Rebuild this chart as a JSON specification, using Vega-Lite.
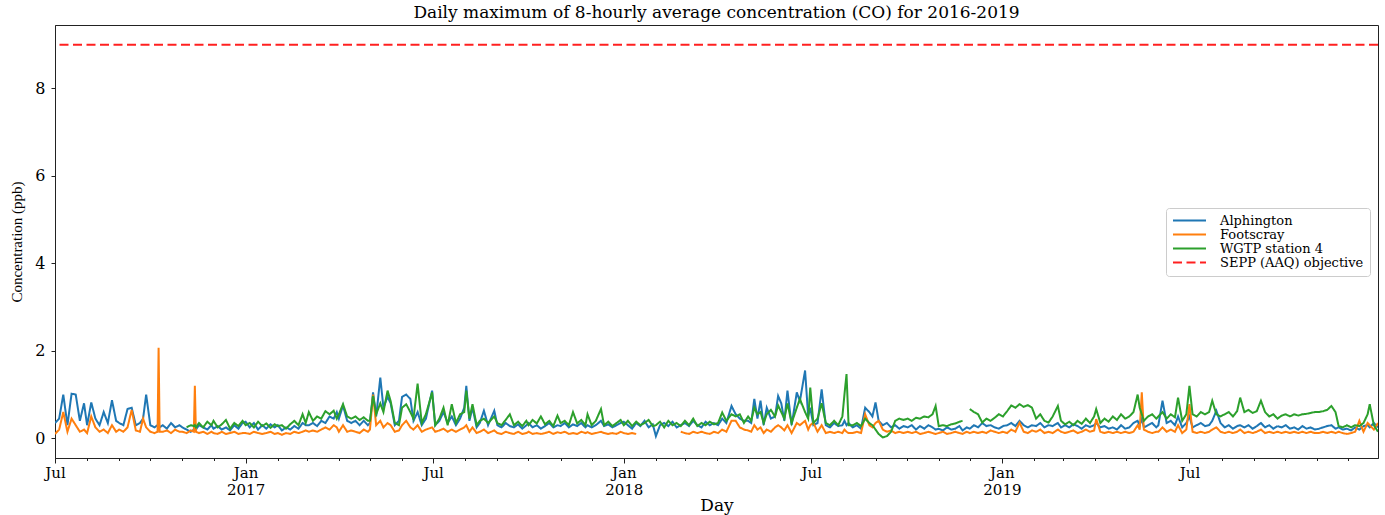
{
  "$schema": "https://vega.github.io/schema/vega-lite/v6.json",
  "width": 1323,
  "height": 433,
  "autosize": "none",
  "padding": {"left": 55, "top": 25, "right": 7, "bottom": 57},
  "background": "#ffffff",
  "title": {"text": "Daily maximum of 8-hourly average concentration (CO) for 2016-2019", "font": "DejaVu Serif", "fontSize": 17, "fontWeight": "normal", "color": "#000000", "anchor": "middle", "offset": 3},
  "config": {
    "font": "DejaVu Serif",
    "view": {"stroke": "#222222", "strokeWidth": 1},
    "axis": {"grid": false, "domainColor": "#222222", "tickColor": "#222222", "labelColor": "#000000", "titleColor": "#000000", "titleFontWeight": "normal"}
  },
  "layer": [
    {
      "data": {"values": [
        {"d":"2016-07-01","a":0.35,"f":0.10},
        {"d":"2016-07-05","a":0.45,"f":0.20},
        {"d":"2016-07-09","a":1.00,"f":0.60},
        {"d":"2016-07-13","a":0.30,"f":0.15},
        {"d":"2016-07-17","a":1.02,"f":0.45},
        {"d":"2016-07-21","a":1.00,"f":0.30},
        {"d":"2016-07-25","a":0.40,"f":0.15},
        {"d":"2016-07-29","a":0.80,"f":0.20},
        {"d":"2016-08-01","a":0.30,"f":0.12},
        {"d":"2016-08-05","a":0.82,"f":0.50},
        {"d":"2016-08-09","a":0.45,"f":0.25},
        {"d":"2016-08-13","a":0.30,"f":0.15},
        {"d":"2016-08-17","a":0.60,"f":0.20},
        {"d":"2016-08-21","a":0.35,"f":0.12},
        {"d":"2016-08-25","a":0.87,"f":0.30},
        {"d":"2016-08-29","a":0.40,"f":0.15},
        {"d":"2016-09-01","a":0.35,"f":0.20},
        {"d":"2016-09-05","a":0.30,"f":0.15},
        {"d":"2016-09-09","a":0.67,"f":0.25},
        {"d":"2016-09-13","a":0.70,"f":0.65},
        {"d":"2016-09-17","a":0.30,"f":0.18},
        {"d":"2016-09-21","a":0.35,"f":0.15},
        {"d":"2016-09-24","a":0.45,"f":0.45},
        {"d":"2016-09-27","a":1.00,"f":0.25},
        {"d":"2016-10-01","a":0.30,"f":0.15},
        {"d":"2016-10-05","a":0.25,"f":0.12},
        {"d":"2016-10-08","a":0.30,"f":0.15},
        {"d":"2016-10-09","a":0.28,"f":2.07},
        {"d":"2016-10-10","a":0.25,"f":0.15},
        {"d":"2016-10-13","a":0.30,"f":0.15},
        {"d":"2016-10-17","a":0.22,"f":0.18},
        {"d":"2016-10-21","a":0.35,"f":0.12},
        {"d":"2016-10-25","a":0.25,"f":0.20},
        {"d":"2016-10-29","a":0.30,"f":0.15},
        {"d":"2016-11-01","a":0.25,"f":0.15},
        {"d":"2016-11-05","a":0.20,"f":0.12,"w":0.25},
        {"d":"2016-11-09","a":0.15,"f":0.18,"w":0.30},
        {"d":"2016-11-12","a":0.20,"f":0.15,"w":0.28},
        {"d":"2016-11-13","a":0.25,"f":1.20,"w":0.30},
        {"d":"2016-11-14","a":0.20,"f":0.15,"w":0.25},
        {"d":"2016-11-17","a":0.30,"f":0.12,"w":0.35},
        {"d":"2016-11-21","a":0.25,"f":0.15,"w":0.25},
        {"d":"2016-11-25","a":0.20,"f":0.10,"w":0.38},
        {"d":"2016-11-29","a":0.30,"f":0.15,"w":0.30},
        {"d":"2016-12-01","a":0.22,"f":0.12,"w":0.40},
        {"d":"2016-12-05","a":0.28,"f":0.10,"w":0.25},
        {"d":"2016-12-09","a":0.20,"f":0.15,"w":0.32},
        {"d":"2016-12-13","a":0.25,"f":0.10,"w":0.42},
        {"d":"2016-12-17","a":0.18,"f":0.12,"w":0.22},
        {"d":"2016-12-21","a":0.30,"f":0.15,"w":0.35},
        {"d":"2016-12-25","a":0.22,"f":0.10,"w":0.28},
        {"d":"2016-12-29","a":0.35,"f":0.12,"w":0.40},
        {"d":"2017-01-01","a":0.38,"f":0.12,"w":0.30},
        {"d":"2017-01-05","a":0.25,"f":0.10,"w":0.35},
        {"d":"2017-01-09","a":0.35,"f":0.15,"w":0.25},
        {"d":"2017-01-13","a":0.20,"f":0.12,"w":0.38},
        {"d":"2017-01-17","a":0.30,"f":0.10,"w":0.28},
        {"d":"2017-01-21","a":0.22,"f":0.12,"w":0.34},
        {"d":"2017-01-25","a":0.32,"f":0.15,"w":0.24},
        {"d":"2017-01-29","a":0.25,"f":0.10,"w":0.32},
        {"d":"2017-02-01","a":0.30,"f":0.12,"w":0.28},
        {"d":"2017-02-05","a":0.18,"f":0.08,"w":0.30},
        {"d":"2017-02-09","a":0.25,"f":0.12,"w":0.22},
        {"d":"2017-02-13","a":0.20,"f":0.10,"w":0.32},
        {"d":"2017-02-17","a":0.28,"f":0.15,"w":0.40},
        {"d":"2017-02-21","a":0.22,"f":0.12,"w":0.30},
        {"d":"2017-02-25","a":0.35,"f":0.15,"w":0.55},
        {"d":"2017-02-28","a":0.30,"f":0.18,"w":0.35},
        {"d":"2017-03-03","a":0.30,"f":0.15,"w":0.60},
        {"d":"2017-03-07","a":0.35,"f":0.18,"w":0.40},
        {"d":"2017-03-11","a":0.28,"f":0.15,"w":0.50},
        {"d":"2017-03-15","a":0.40,"f":0.20,"w":0.45},
        {"d":"2017-03-19","a":0.35,"f":0.25,"w":0.62},
        {"d":"2017-03-23","a":0.50,"f":0.20,"w":0.55},
        {"d":"2017-03-27","a":0.45,"f":0.30,"w":0.63},
        {"d":"2017-03-30","a":0.60,"f":0.25,"w":0.45},
        {"d":"2017-04-01","a":0.45,"f":0.15,"w":0.55},
        {"d":"2017-04-05","a":0.75,"f":0.30,"w":0.78},
        {"d":"2017-04-09","a":0.40,"f":0.15,"w":0.50},
        {"d":"2017-04-13","a":0.35,"f":0.18,"w":0.45},
        {"d":"2017-04-17","a":0.40,"f":0.15,"w":0.50},
        {"d":"2017-04-21","a":0.30,"f":0.12,"w":0.42},
        {"d":"2017-04-25","a":0.40,"f":0.20,"w":0.48},
        {"d":"2017-04-29","a":0.30,"f":0.15,"w":0.40},
        {"d":"2017-05-01","a":0.35,"f":0.20,"w":0.40},
        {"d":"2017-05-04","a":1.05,"f":1.00,"w":0.97},
        {"d":"2017-05-07","a":0.50,"f":0.30,"w":0.55},
        {"d":"2017-05-11","a":1.39,"f":0.40,"w":0.80},
        {"d":"2017-05-14","a":0.70,"f":0.25,"w":0.60},
        {"d":"2017-05-18","a":0.95,"f":0.35,"w":1.09},
        {"d":"2017-05-21","a":0.80,"f":0.30,"w":0.85},
        {"d":"2017-05-25","a":0.30,"f":0.15,"w":0.35},
        {"d":"2017-05-29","a":0.40,"f":0.18,"w":0.30},
        {"d":"2017-06-01","a":0.95,"f":0.30,"w":0.70},
        {"d":"2017-06-05","a":1.00,"f":0.40,"w":0.78},
        {"d":"2017-06-09","a":0.90,"f":0.25,"w":0.60},
        {"d":"2017-06-12","a":0.40,"f":0.20,"w":0.45},
        {"d":"2017-06-16","a":0.60,"f":0.30,"w":1.25},
        {"d":"2017-06-20","a":0.30,"f":0.15,"w":0.35},
        {"d":"2017-06-24","a":0.45,"f":0.20,"w":0.55},
        {"d":"2017-06-30","a":1.09,"f":0.25,"w":1.05},
        {"d":"2017-07-03","a":0.30,"f":0.15,"w":0.30},
        {"d":"2017-07-07","a":0.40,"f":0.18,"w":0.45},
        {"d":"2017-07-11","a":0.60,"f":0.22,"w":0.70},
        {"d":"2017-07-15","a":0.35,"f":0.15,"w":0.30},
        {"d":"2017-07-19","a":0.50,"f":0.20,"w":0.78},
        {"d":"2017-07-23","a":0.30,"f":0.15,"w":0.35},
        {"d":"2017-07-27","a":0.45,"f":0.20,"w":0.55},
        {"d":"2017-07-31","a":0.70,"f":0.25,"w":0.60},
        {"d":"2017-08-02","a":1.20,"f":0.30,"w":1.09},
        {"d":"2017-08-05","a":0.40,"f":0.15,"w":0.45},
        {"d":"2017-08-08","a":0.70,"f":0.25,"w":0.78},
        {"d":"2017-08-12","a":0.25,"f":0.12,"w":0.30},
        {"d":"2017-08-15","a":0.35,"f":0.15,"w":0.40},
        {"d":"2017-08-19","a":0.63,"f":0.20,"w":0.45},
        {"d":"2017-08-23","a":0.30,"f":0.12,"w":0.35},
        {"d":"2017-08-29","a":0.63,"f":0.18,"w":0.50},
        {"d":"2017-09-01","a":0.30,"f":0.12,"w":0.35},
        {"d":"2017-09-05","a":0.25,"f":0.10,"w":0.30},
        {"d":"2017-09-09","a":0.35,"f":0.15,"w":0.42},
        {"d":"2017-09-13","a":0.28,"f":0.12,"w":0.55},
        {"d":"2017-09-17","a":0.25,"f":0.10,"w":0.30},
        {"d":"2017-09-21","a":0.32,"f":0.15,"w":0.38},
        {"d":"2017-09-25","a":0.22,"f":0.10,"w":0.28},
        {"d":"2017-09-29","a":0.30,"f":0.12,"w":0.40},
        {"d":"2017-10-01","a":0.35,"f":0.15,"w":0.30},
        {"d":"2017-10-05","a":0.25,"f":0.10,"w":0.42},
        {"d":"2017-10-09","a":0.30,"f":0.12,"w":0.34},
        {"d":"2017-10-13","a":0.22,"f":0.10,"w":0.50},
        {"d":"2017-10-17","a":0.28,"f":0.12,"w":0.32},
        {"d":"2017-10-21","a":0.35,"f":0.15,"w":0.40},
        {"d":"2017-10-25","a":0.25,"f":0.10,"w":0.28},
        {"d":"2017-10-29","a":0.30,"f":0.14,"w":0.52},
        {"d":"2017-11-01","a":0.28,"f":0.12,"w":0.35},
        {"d":"2017-11-05","a":0.35,"f":0.15,"w":0.40},
        {"d":"2017-11-09","a":0.25,"f":0.10,"w":0.30},
        {"d":"2017-11-13","a":0.32,"f":0.12,"w":0.60},
        {"d":"2017-11-17","a":0.28,"f":0.10,"w":0.34},
        {"d":"2017-11-21","a":0.35,"f":0.15,"w":0.42},
        {"d":"2017-11-25","a":0.25,"f":0.12,"w":0.30},
        {"d":"2017-11-27","a":0.30,"f":0.14,"w":0.55},
        {"d":"2017-12-01","a":0.25,"f":0.10,"w":0.30},
        {"d":"2017-12-05","a":0.30,"f":0.12,"w":0.40},
        {"d":"2017-12-10","a":0.40,"f":0.15,"w":0.67},
        {"d":"2017-12-13","a":0.28,"f":0.12,"w":0.30},
        {"d":"2017-12-17","a":0.32,"f":0.10,"w":0.38},
        {"d":"2017-12-21","a":0.25,"f":0.12,"w":0.28},
        {"d":"2017-12-25","a":0.30,"f":0.10,"w":0.35},
        {"d":"2017-12-29","a":0.35,"f":0.15,"w":0.42},
        {"d":"2018-01-01","a":0.38,"f":0.12,"w":0.30},
        {"d":"2018-01-05","a":0.30,"f":0.10,"w":0.40},
        {"d":"2018-01-09","a":0.22,"f":0.12,"w":0.28},
        {"d":"2018-01-13","a":0.35,"f":0.10,"w":0.38},
        {"d":"2018-01-17","a":0.28,"w":0.30},
        {"d":"2018-01-21","a":0.40,"w":0.35},
        {"d":"2018-01-25","a":0.25,"w":0.42},
        {"d":"2018-01-29","a":0.32,"w":0.28},
        {"d":"2018-02-01","a":0.05,"w":0.30},
        {"d":"2018-02-05","a":0.30,"w":0.38},
        {"d":"2018-02-09","a":0.35,"w":0.25},
        {"d":"2018-02-13","a":0.28,"w":0.40},
        {"d":"2018-02-17","a":0.38,"w":0.30},
        {"d":"2018-02-21","a":0.25,"w":0.35},
        {"d":"2018-02-25","a":0.30,"f":0.15,"w":0.28},
        {"d":"2018-03-01","a":0.35,"f":0.12,"w":0.40},
        {"d":"2018-03-05","a":0.28,"f":0.10,"w":0.30},
        {"d":"2018-03-09","a":0.40,"f":0.15,"w":0.45},
        {"d":"2018-03-13","a":0.30,"f":0.12,"w":0.28},
        {"d":"2018-03-17","a":0.25,"f":0.15,"w":0.35},
        {"d":"2018-03-21","a":0.38,"f":0.12,"w":0.30},
        {"d":"2018-03-25","a":0.30,"f":0.10,"w":0.38},
        {"d":"2018-03-29","a":0.35,"f":0.15,"w":0.32},
        {"d":"2018-04-02","a":0.30,"f":0.12,"w":0.35},
        {"d":"2018-04-06","a":0.45,"f":0.20,"w":0.59},
        {"d":"2018-04-10","a":0.35,"f":0.15,"w":0.40},
        {"d":"2018-04-15","a":0.74,"f":0.40,"w":0.55},
        {"d":"2018-04-19","a":0.55,"f":0.40,"w":0.50},
        {"d":"2018-04-23","a":0.45,"f":0.25,"w":0.55},
        {"d":"2018-04-27","a":0.40,"f":0.20,"w":0.35},
        {"d":"2018-05-01","a":0.40,"f":0.18,"w":0.50},
        {"d":"2018-05-04","a":0.35,"f":0.15,"w":0.40},
        {"d":"2018-05-07","a":0.90,"f":0.30,"w":0.70},
        {"d":"2018-05-10","a":0.45,"f":0.20,"w":0.55},
        {"d":"2018-05-13","a":0.86,"f":0.25,"w":0.60},
        {"d":"2018-05-16","a":0.30,"f":0.12,"w":0.35},
        {"d":"2018-05-19","a":0.70,"f":0.20,"w":0.55},
        {"d":"2018-05-23","a":0.45,"f":0.15,"w":0.65},
        {"d":"2018-05-27","a":0.50,"f":0.25,"w":0.50},
        {"d":"2018-05-30","a":0.97,"f":0.30,"w":0.75},
        {"d":"2018-06-02","a":0.80,"f":0.25,"w":0.60},
        {"d":"2018-06-05","a":0.40,"f":0.18,"w":0.45},
        {"d":"2018-06-08","a":1.09,"f":0.30,"w":0.80},
        {"d":"2018-06-12","a":0.30,"f":0.12,"w":0.35},
        {"d":"2018-06-17","a":1.05,"f":0.35,"w":0.70},
        {"d":"2018-06-20","a":0.85,"f":0.30,"w":0.90},
        {"d":"2018-06-25","a":1.55,"f":0.40,"w":0.60},
        {"d":"2018-06-28","a":0.50,"f":0.20,"w":0.45},
        {"d":"2018-06-30","a":0.70,"f":0.30,"w":1.16},
        {"d":"2018-07-03","a":0.30,"f":0.36,"w":0.35},
        {"d":"2018-07-07","a":0.35,"f":0.15,"w":0.45},
        {"d":"2018-07-11","a":1.12,"f":0.30,"w":0.80},
        {"d":"2018-07-15","a":0.30,"f":0.12,"w":0.35},
        {"d":"2018-07-19","a":0.25,"f":0.15,"w":0.30},
        {"d":"2018-07-23","a":0.35,"f":0.12,"w":0.40},
        {"d":"2018-07-27","a":0.28,"f":0.15,"w":0.30},
        {"d":"2018-07-31","a":0.30,"f":0.12,"w":0.50},
        {"d":"2018-08-02","a":0.40,"f":0.20,"w":1.00},
        {"d":"2018-08-04","a":0.30,"f":0.15,"w":1.47},
        {"d":"2018-08-06","a":0.35,"f":0.12,"w":0.30},
        {"d":"2018-08-10","a":0.25,"f":0.12,"w":0.30},
        {"d":"2018-08-14","a":0.30,"f":0.15,"w":0.35},
        {"d":"2018-08-18","a":0.22,"f":0.12,"w":0.28},
        {"d":"2018-08-22","a":0.70,"f":0.55,"w":0.45},
        {"d":"2018-08-26","a":0.60,"f":0.30,"w":0.35},
        {"d":"2018-08-29","a":0.50,"f":0.25,"w":0.30},
        {"d":"2018-09-01","a":0.82,"f":0.35,"w":0.20},
        {"d":"2018-09-04","a":0.40,"f":0.40,"w":0.10},
        {"d":"2018-09-08","a":0.30,"f":0.20,"w":0.02},
        {"d":"2018-09-12","a":0.35,"f":0.15,"w":0.05},
        {"d":"2018-09-16","a":0.25,"f":0.18,"w":0.15},
        {"d":"2018-09-20","a":0.30,"f":0.12,"w":0.40},
        {"d":"2018-09-24","a":0.22,"f":0.15,"w":0.45},
        {"d":"2018-09-28","a":0.28,"f":0.12,"w":0.42},
        {"d":"2018-10-02","a":0.25,"f":0.15,"w":0.45},
        {"d":"2018-10-06","a":0.30,"f":0.12,"w":0.40},
        {"d":"2018-10-10","a":0.20,"f":0.15,"w":0.47},
        {"d":"2018-10-14","a":0.28,"f":0.10,"w":0.45},
        {"d":"2018-10-18","a":0.22,"f":0.12,"w":0.50},
        {"d":"2018-10-22","a":0.30,"f":0.15,"w":0.48},
        {"d":"2018-10-26","a":0.25,"f":0.12,"w":0.55},
        {"d":"2018-10-29","a":0.20,"f":0.10,"w":0.74},
        {"d":"2018-11-01","a":0.22,"f":0.12,"w":0.28},
        {"d":"2018-11-05","a":0.18,"f":0.15,"w":0.30},
        {"d":"2018-11-09","a":0.25,"f":0.10,"w":0.28},
        {"d":"2018-11-13","a":0.20,"f":0.12,"w":0.32},
        {"d":"2018-11-17","a":0.22,"f":0.15,"w":0.34},
        {"d":"2018-11-21","a":0.28,"f":0.12,"w":0.38},
        {"d":"2018-11-24","a":0.18,"f":0.10,"w":0.40},
        {"d":"2018-11-28","a":0.25,"f":0.15},
        {"d":"2018-12-01","a":0.22,"f":0.12,"w":0.67},
        {"d":"2018-12-05","a":0.30,"f":0.15,"w":0.60},
        {"d":"2018-12-09","a":0.25,"f":0.12,"w":0.55},
        {"d":"2018-12-13","a":0.35,"f":0.15,"w":0.36},
        {"d":"2018-12-17","a":0.28,"f":0.12,"w":0.45},
        {"d":"2018-12-21","a":0.30,"f":0.18,"w":0.40},
        {"d":"2018-12-25","a":0.25,"f":0.15,"w":0.47},
        {"d":"2018-12-29","a":0.22,"f":0.12,"w":0.55},
        {"d":"2019-01-02","a":0.28,"f":0.15,"w":0.50},
        {"d":"2019-01-06","a":0.30,"f":0.12,"w":0.62},
        {"d":"2019-01-10","a":0.35,"f":0.20,"w":0.75},
        {"d":"2019-01-14","a":0.28,"f":0.15,"w":0.70},
        {"d":"2019-01-18","a":0.40,"f":0.36,"w":0.78},
        {"d":"2019-01-22","a":0.30,"f":0.15,"w":0.72},
        {"d":"2019-01-26","a":0.25,"f":0.12,"w":0.76},
        {"d":"2019-01-30","a":0.30,"f":0.18,"w":0.70},
        {"d":"2019-02-03","a":0.28,"f":0.15,"w":0.45},
        {"d":"2019-02-07","a":0.35,"f":0.20,"w":0.55},
        {"d":"2019-02-11","a":0.25,"f":0.12,"w":0.40},
        {"d":"2019-02-15","a":0.30,"f":0.15,"w":0.36},
        {"d":"2019-02-19","a":0.28,"f":0.12,"w":0.50},
        {"d":"2019-02-24","a":0.35,"f":0.20,"w":0.74},
        {"d":"2019-02-27","a":0.25,"f":0.15,"w":0.40},
        {"d":"2019-03-03","a":0.30,"f":0.12,"w":0.32},
        {"d":"2019-03-07","a":0.25,"f":0.15,"w":0.38},
        {"d":"2019-03-11","a":0.32,"f":0.18,"w":0.30},
        {"d":"2019-03-15","a":0.28,"f":0.12,"w":0.40},
        {"d":"2019-03-19","a":0.22,"f":0.15,"w":0.33},
        {"d":"2019-03-23","a":0.30,"f":0.20,"w":0.45},
        {"d":"2019-03-27","a":0.26,"f":0.15,"w":0.35},
        {"d":"2019-03-31","a":0.30,"f":0.18,"w":0.50},
        {"d":"2019-04-02","a":0.35,"f":0.44,"w":0.67},
        {"d":"2019-04-06","a":0.25,"f":0.15,"w":0.35},
        {"d":"2019-04-10","a":0.28,"f":0.12,"w":0.45},
        {"d":"2019-04-14","a":0.22,"f":0.15,"w":0.38},
        {"d":"2019-04-18","a":0.25,"f":0.12,"w":0.50},
        {"d":"2019-04-22","a":0.20,"f":0.15,"w":0.42},
        {"d":"2019-04-26","a":0.30,"f":0.12,"w":0.55},
        {"d":"2019-04-30","a":0.22,"f":0.15,"w":0.45},
        {"d":"2019-05-04","a":0.25,"f":0.12,"w":0.50},
        {"d":"2019-05-08","a":0.35,"f":0.15,"w":0.60},
        {"d":"2019-05-12","a":0.40,"f":0.30,"w":1.00},
        {"d":"2019-05-14","a":0.30,"f":0.20,"w":0.70},
        {"d":"2019-05-16","a":0.45,"f":1.05,"w":0.55},
        {"d":"2019-05-18","a":0.25,"f":0.20,"w":0.40},
        {"d":"2019-05-22","a":0.30,"f":0.15,"w":0.50},
        {"d":"2019-05-26","a":0.35,"f":0.12,"w":0.55},
        {"d":"2019-05-30","a":0.25,"f":0.15,"w":0.45},
        {"d":"2019-06-01","a":0.30,"f":0.15,"w":0.50},
        {"d":"2019-06-05","a":0.86,"f":0.25,"w":0.60},
        {"d":"2019-06-09","a":0.35,"f":0.15,"w":0.45},
        {"d":"2019-06-13","a":0.40,"f":0.20,"w":0.55},
        {"d":"2019-06-17","a":0.30,"f":0.15,"w":0.48},
        {"d":"2019-06-20","a":0.50,"f":0.30,"w":0.93},
        {"d":"2019-06-24","a":0.25,"f":0.12,"w":0.40},
        {"d":"2019-06-28","a":0.35,"f":0.20,"w":0.55},
        {"d":"2019-07-01","a":0.50,"f":0.78,"w":1.20},
        {"d":"2019-07-04","a":0.25,"f":0.15,"w":0.55},
        {"d":"2019-07-08","a":0.30,"f":0.12,"w":0.50},
        {"d":"2019-07-12","a":0.35,"f":0.15,"w":0.60},
        {"d":"2019-07-16","a":0.28,"f":0.12,"w":0.55},
        {"d":"2019-07-20","a":0.30,"f":0.15,"w":0.60},
        {"d":"2019-07-23","a":0.40,"f":0.20,"w":0.86},
        {"d":"2019-07-27","a":0.63,"f":0.25,"w":0.55},
        {"d":"2019-07-31","a":0.35,"f":0.15,"w":0.50},
        {"d":"2019-08-04","a":0.25,"f":0.12,"w":0.55},
        {"d":"2019-08-08","a":0.30,"f":0.15,"w":0.60},
        {"d":"2019-08-12","a":0.22,"f":0.12,"w":0.50},
        {"d":"2019-08-16","a":0.28,"f":0.15,"w":0.62},
        {"d":"2019-08-19","a":0.30,"f":0.20,"w":0.93},
        {"d":"2019-08-23","a":0.25,"f":0.12,"w":0.60},
        {"d":"2019-08-27","a":0.30,"f":0.15,"w":0.65},
        {"d":"2019-08-31","a":0.22,"f":0.12,"w":0.58},
        {"d":"2019-09-04","a":0.28,"f":0.15,"w":0.62},
        {"d":"2019-09-08","a":0.35,"f":0.20,"w":0.86},
        {"d":"2019-09-12","a":0.25,"f":0.12,"w":0.60},
        {"d":"2019-09-16","a":0.30,"f":0.15,"w":0.50},
        {"d":"2019-09-20","a":0.22,"f":0.12,"w":0.55},
        {"d":"2019-09-24","a":0.28,"f":0.15,"w":0.45},
        {"d":"2019-09-28","a":0.25,"f":0.12,"w":0.52},
        {"d":"2019-10-02","a":0.30,"f":0.15,"w":0.55},
        {"d":"2019-10-06","a":0.22,"f":0.12,"w":0.50},
        {"d":"2019-10-10","a":0.25,"f":0.15,"w":0.55},
        {"d":"2019-10-14","a":0.20,"f":0.12,"w":0.52},
        {"d":"2019-10-18","a":0.28,"f":0.15,"w":0.55},
        {"d":"2019-10-22","a":0.22,"f":0.12,"w":0.56},
        {"d":"2019-10-26","a":0.25,"f":0.15,"w":0.58},
        {"d":"2019-10-30","a":0.20,"f":0.12,"w":0.60},
        {"d":"2019-11-03","a":0.22,"f":0.12,"w":0.60},
        {"d":"2019-11-07","a":0.25,"f":0.15,"w":0.62},
        {"d":"2019-11-11","a":0.28,"f":0.12,"w":0.65},
        {"d":"2019-11-15","a":0.30,"f":0.15,"w":0.74},
        {"d":"2019-11-19","a":0.22,"f":0.12,"w":0.60},
        {"d":"2019-11-22","a":0.25,"f":0.15,"w":0.28},
        {"d":"2019-11-26","a":0.20,"f":0.12,"w":0.25},
        {"d":"2019-11-30","a":0.22,"f":0.10,"w":0.30},
        {"d":"2019-12-04","a":0.18,"f":0.12,"w":0.25},
        {"d":"2019-12-08","a":0.25,"f":0.15,"w":0.30},
        {"d":"2019-12-12","a":0.20,"f":0.40,"w":0.28},
        {"d":"2019-12-16","a":0.28,"f":0.15,"w":0.35},
        {"d":"2019-12-20","a":0.30,"f":0.35,"w":0.55},
        {"d":"2019-12-22","a":0.25,"f":0.30,"w":0.78},
        {"d":"2019-12-26","a":0.35,"f":0.20,"w":0.30},
        {"d":"2019-12-30","a":0.25,"f":0.35,"w":0.15}
      ]},
      "transform": [{"fold": ["a", "f", "w"], "as": ["k", "v"]}],
      "mark": {"type": "line", "strokeWidth": 2, "clip": true},
      "encoding": {
        "x": {
          "field": "d", "type": "temporal",
          "scale": {"type": "utc", "domain": [{"year": 2016, "month": 7, "date": 1, "utc": true}, {"year": 2019, "month": 12, "date": 30, "utc": true}]},
          "axis": {
            "title": "Day", "titleFontSize": 17, "titlePadding": 0,
            "labelFontSize": 15, "labelFlush": false, "labelOverlap": false, "labelBound": false,
            "labelPadding": 2, "labelLineHeight": 17,
            "tickCount": {"interval": "month", "step": 1},
            "tickSize": {"condition": {"test": "utcmonth(datum.value) % 6 == 0", "value": 5}, "value": 2.5},
            "labelExpr": "utcmonth(datum.value) == 0 ? ['Jan', utcFormat(datum.value, '%Y')] : (utcmonth(datum.value) == 6 ? 'Jul' : '')"
          }
        },
        "y": {
          "field": "v", "type": "quantitative",
          "scale": {"domain": [-0.45, 9.45], "nice": false, "zero": false},
          "axis": {"values": [0, 2, 4, 6, 8], "title": "Concentration (ppb)", "titleFont": "Liberation Serif", "titleFontSize": 15, "titlePadding": 10, "labelFontSize": 16, "labelPadding": 6, "tickSize": 4}
        },
        "color": {
          "field": "k", "type": "nominal",
          "scale": {"domain": ["a", "f", "w", "s"], "range": ["#1f77b4", "#ff7f0e", "#2ca02c", "#ff2020"]},
          "legend": {
            "orient": "none", "legendX": 1111, "legendY": 183, "title": null,
            "symbolType": "M-3.3,0H3.3", "symbolSize": 100, "symbolStrokeWidth": 2, "symbolOffset": 11,
            "labelOffset": 24, "labelFontSize": 13, "labelColor": "#000000",
            "fillColor": "#ffffff", "strokeColor": "#cccccc", "cornerRadius": 3, "padding": 6, "rowPadding": 0,
            "labelExpr": "datum.label == 'a' ? 'Alphington' : (datum.label == 'f' ? 'Footscray' : (datum.label == 'w' ? 'WGTP station 4' : 'SEPP (AAQ) objective'))"
          }
        },
        "strokeDash": {
          "field": "k", "type": "nominal",
          "scale": {"domain": ["a", "f", "w", "s"], "range": [[1, 0], [1, 0], [1, 0], [9, 4.5]]},
          "legend": {
            "orient": "none", "legendX": 1111, "legendY": 183, "title": null,
            "symbolType": "M-3.3,0H3.3", "symbolSize": 100, "symbolStrokeWidth": 2, "symbolOffset": 11,
            "labelOffset": 24, "labelFontSize": 13, "labelColor": "#000000",
            "fillColor": "#ffffff", "strokeColor": "#cccccc", "cornerRadius": 3, "padding": 6, "rowPadding": 0,
            "labelExpr": "datum.label == 'a' ? 'Alphington' : (datum.label == 'f' ? 'Footscray' : (datum.label == 'w' ? 'WGTP station 4' : 'SEPP (AAQ) objective'))"
          }
        }
      }
    },
    {
      "data": {"values": [{"k": "s", "v": 9}]},
      "mark": {"type": "rule", "strokeWidth": 2},
      "encoding": {
        "y": {"field": "v", "type": "quantitative"},
        "color": {"field": "k", "type": "nominal"},
        "strokeDash": {"field": "k", "type": "nominal"}
      }
    }
  ]
}
